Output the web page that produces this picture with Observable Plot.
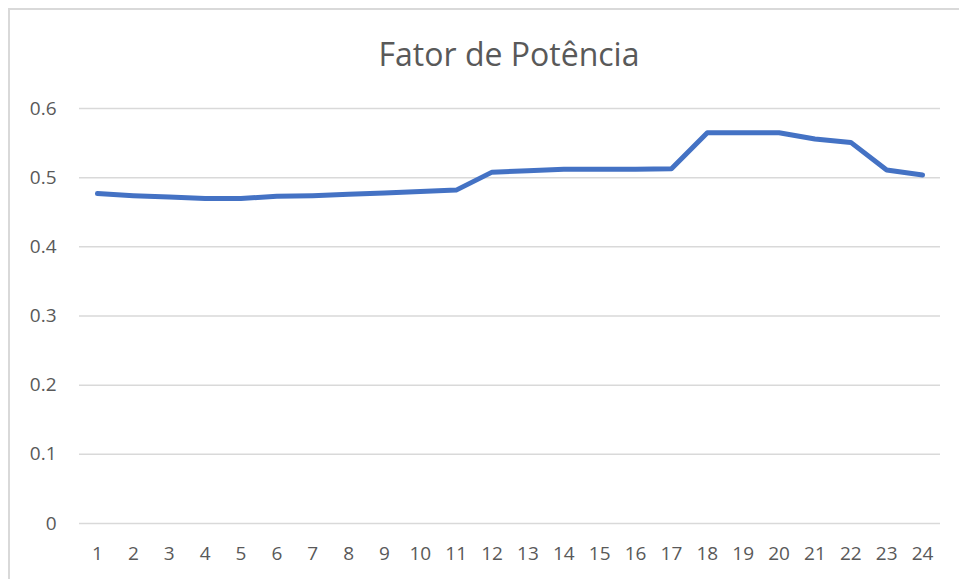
<!DOCTYPE html>
<html>
<head>
<meta charset="utf-8">
<script src="https://cdn.jsdelivr.net/npm/d3@7"></script>
<script src="https://cdn.jsdelivr.net/npm/@observablehq/plot@0.6"></script>
<style>
  html, body { margin: 0; padding: 0; background: #fff; }
  #wrap { position: relative; width: 959px; height: 579px; overflow: hidden; }
  #frame { position: absolute; left: 8px; top: 8px; width: 1200px; height: 800px;
           border-top: 2px solid #d9d9d9; border-left: 2px solid #d9d9d9; box-sizing: border-box; }
  #title { position: absolute; left: 0; width: 1018px; top: 32px; text-align: center;
           font-family: "Open Sans", sans-serif; font-size: 32px; color: #595959; }
  #chart { position: absolute; left: 0; top: 0; }
</style>
</head>
<body>
<div id="wrap">
  <div id="frame"></div>
  <div id="chart"></div>
  <div id="title">Fator de Potência</div>
</div>
<script>
const titleText = "Fator de Potência";
const hours = [1, 2, 3, 4, 5, 6, 7, 8, 9, 10, 11, 12, 13, 14, 15, 16, 17, 18, 19, 20, 21, 22, 23, 24];
const powerFactor = [0.477, 0.474, 0.472, 0.470, 0.470, 0.473, 0.474, 0.476, 0.478, 0.480, 0.482,
                     0.508, 0.510, 0.512, 0.512, 0.512, 0.513, 0.565, 0.565, 0.565, 0.556, 0.551,
                     0.511, 0.504];
const yTicks = [0, 0.1, 0.2, 0.3, 0.4, 0.5, 0.6];

document.getElementById("title").textContent = titleText;
const data = hours.map((h, i) => ({hour: h, fp: powerFactor[i]}));

const chart = Plot.plot({
  width: 959,
  height: 579,
  marginLeft: 79,
  marginRight: 19,
  marginTop: 108,
  marginBottom: 56,
  style: {fontFamily: "Open Sans, sans-serif", fontSize: "19px", color: "#595959", background: "transparent"},
  x: {type: "point", domain: hours, padding: 0.5, round: false},
  y: {domain: [0, 0.6]},
  marks: [
    Plot.gridY(yTicks, {stroke: "#d9d9d9", strokeOpacity: 1, strokeWidth: 1.5}),
    Plot.axisY(yTicks, {tickSize: 0, tickPadding: 23, label: null,
      tickFormat: d => d === 0 ? "0" : d.toFixed(1)}),
    Plot.axisX(hours, {tickSize: 0, tickPadding: 23, label: null}),
    Plot.line(data, {x: "hour", y: "fp", stroke: "#4472c4", strokeWidth: 5,
      strokeLinejoin: "round", strokeLinecap: "round"})
  ]
});
document.getElementById("chart").appendChild(chart);
</script>
</body>
</html>
